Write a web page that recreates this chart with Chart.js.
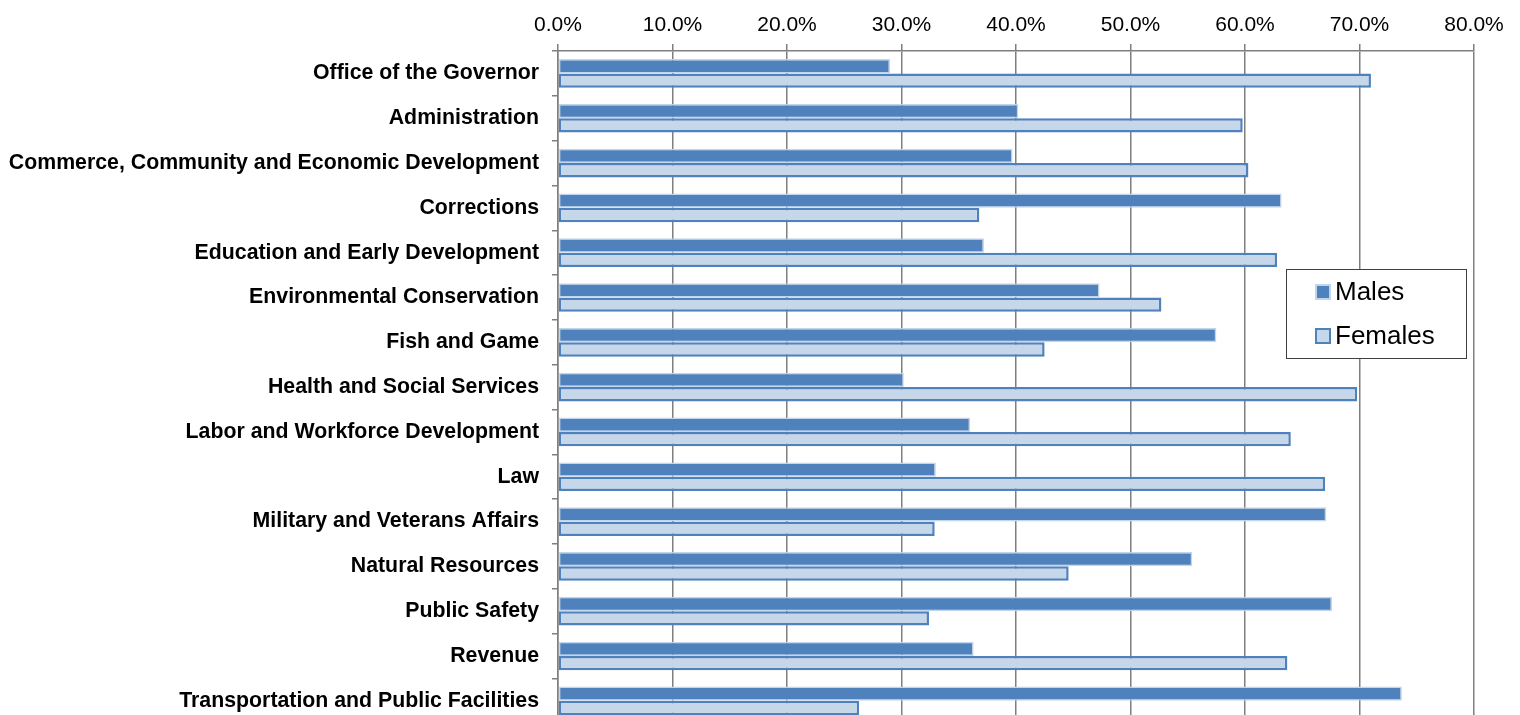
<!DOCTYPE html>
<html>
<head>
<meta charset="utf-8">
<title>Workforce by gender and department</title>
<script src="https://cdn.jsdelivr.net/npm/chart.js@4.4.1/dist/chart.umd.min.js"></script>
<style>
  html, body { margin: 0; padding: 0; background: #fff; overflow: hidden; }
  #wrap { position: relative; width: 1520px; height: 749px; }
</style>
</head>
<body>
<div id="wrap"><canvas id="genderChart"></canvas></div>
<script>
const departments = [
  'Office of the Governor',
  'Administration',
  'Commerce, Community and Economic Development',
  'Corrections',
  'Education and Early Development',
  'Environmental Conservation',
  'Fish and Game',
  'Health and Social Services',
  'Labor and Workforce Development',
  'Law',
  'Military and Veterans Affairs',
  'Natural Resources',
  'Public Safety',
  'Revenue',
  'Transportation and Public Facilities'
];

// share of employees, in percent
const males   = [29.0, 40.2, 39.7, 63.2, 37.2, 47.3, 57.5, 30.2, 36.0, 33.0, 67.1, 55.4, 67.6, 36.3, 73.7];
const females = [71.0, 59.8, 60.3, 36.8, 62.8, 52.7, 42.5, 69.8, 64.0, 67.0, 32.9, 44.6, 32.4, 63.7, 26.3];

const axisMax = 80;
const axisStep = 10;

const FONT = '"Liberation Sans", Arial, Helvetica, sans-serif';
const DARK = '#4F81BD';
const LIGHT = '#C6D7EA';
const HALO = '#C3D5EB';
const GRID = '#7F7F7F';

// legend box drawn inside the plot area
const boxLegend = {
  id: 'boxLegend',
  afterDraw(chart) {
    const ctx = chart.ctx;
    const x = 1286, y = 269, w = 180, h = 89;
    ctx.save();
    ctx.fillStyle = '#fff';
    ctx.fillRect(x, y, w, h);
    ctx.strokeStyle = '#404040';
    ctx.lineWidth = 1;
    ctx.strokeRect(x + 0.5, y + 0.5, w, h);

    const rows = [23, 67];
    chart.data.datasets.forEach((ds, i) => {
      const cy = y + rows[i];
      ctx.fillStyle = ds.backgroundColor;
      ctx.fillRect(x + 30, cy - 7, 14, 14);
      ctx.strokeStyle = ds.borderColor;
      ctx.lineWidth = 2;
      ctx.strokeRect(x + 30, cy - 7, 14, 14);
      ctx.fillStyle = '#000';
      ctx.font = '26px ' + FONT;
      ctx.textBaseline = 'middle';
      ctx.textAlign = 'left';
      ctx.fillText(ds.label, x + 49, cy + 1);
    });
    ctx.restore();
  }
};

document.addEventListener('DOMContentLoaded', function() {
  const ctx = document.getElementById('genderChart').getContext('2d');

  new Chart(ctx, {
    type: 'bar',
    data: {
      labels: departments,
      datasets: [
        {
          label: 'Males',
          data: males,
          backgroundColor: DARK,
          borderColor: HALO,
          borderWidth: 1.5,
          borderSkipped: false,
          categoryPercentage: 0.64,
          barPercentage: 1.0
        },
        {
          label: 'Females',
          data: females,
          backgroundColor: LIGHT,
          borderColor: DARK,
          borderWidth: 2.5,
          borderSkipped: false,
          categoryPercentage: 0.64,
          barPercentage: 1.0
        }
      ]
    },
    options: {
      indexAxis: 'y',
      responsive: true,
      maintainAspectRatio: false,
      animation: false,
      layout: { padding: { left: 8, right: 46, top: 0, bottom: 8 } },
      plugins: {
        legend: { display: false },
        tooltip: { enabled: false }
      },
      scales: {
        x: {
          position: 'top',
          min: 0,
          max: axisMax,
          ticks: {
            stepSize: axisStep,
            padding: 6,
            color: '#000',
            font: { family: FONT, size: 21 },
            callback: v => v.toFixed(1) + '%'
          },
          grid: { color: GRID, lineWidth: 1.5, tickLength: 7 },
          border: { color: GRID, width: 1.5 },
          afterFit(scale) { scale.height = 51; }
        },
        y: {
          ticks: {
            padding: 13,
            color: '#000',
            font: { family: FONT, size: 21.3, weight: 'bold' }
          },
          grid: { drawOnChartArea: false, offset: true, color: GRID, lineWidth: 1.5, tickLength: 6 },
          border: { color: GRID, width: 1.5 },
          afterFit(scale) { scale.width = 550; }
        }
      }
    },
    plugins: [boxLegend]
  });
});
</script>
</body>
</html>
